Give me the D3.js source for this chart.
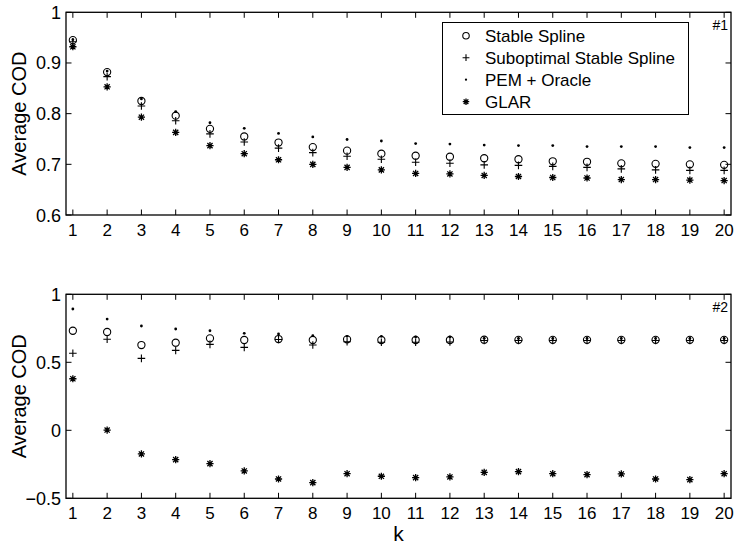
<!DOCTYPE html>
<html>
<head>
<meta charset="utf-8">
<script src="https://cdn.jsdelivr.net/npm/d3@7"></script>
<style>
  body { margin: 0; background: #fff; }
  svg { font-family: "Liberation Sans", Arial, Helvetica, sans-serif; }
</style>
</head>
<body>
<div id="chart"></div>
<script>
const kValues = [1, 2, 3, 4, 5, 6, 7, 8, 9, 10, 11, 12, 13, 14, 15, 16, 17, 18, 19, 20];

// panel #1
const stableTop = [0.945, 0.882, 0.825, 0.796, 0.770, 0.755, 0.743, 0.734, 0.727, 0.721,
  0.717, 0.715, 0.712, 0.710, 0.706, 0.705, 0.702, 0.701, 0.700, 0.699];
const suboptTop = [0.942, 0.873, 0.815, 0.786, 0.760, 0.744, 0.732, 0.723, 0.716, 0.710,
  0.704, 0.702, 0.699, 0.698, 0.696, 0.694, 0.691, 0.689, 0.688, 0.688];
const pemTop = [0.946, 0.884, 0.829, 0.804, 0.782, 0.771, 0.761, 0.754, 0.749, 0.746,
  0.741, 0.740, 0.738, 0.737, 0.737, 0.735, 0.735, 0.735, 0.733, 0.733];
const glarTop = [0.932, 0.853, 0.793, 0.763, 0.737, 0.721, 0.709, 0.700, 0.694, 0.689,
  0.682, 0.681, 0.678, 0.676, 0.674, 0.673, 0.670, 0.670, 0.669, 0.668];

// panel #2
const stableBot = [0.732, 0.723, 0.627, 0.644, 0.676, 0.664, 0.671, 0.664, 0.669, 0.664,
  0.664, 0.664, 0.666, 0.665, 0.665, 0.665, 0.665, 0.665, 0.665, 0.665];
const suboptBot = [0.566, 0.669, 0.529, 0.588, 0.632, 0.610, 0.668, 0.627, 0.651, 0.647,
  0.647, 0.649, 0.660, 0.660, 0.660, 0.660, 0.660, 0.660, 0.660, 0.660];
const pemBot = [0.892, 0.818, 0.767, 0.745, 0.732, 0.713, 0.708, 0.696, 0.691, 0.691,
  0.686, 0.686, 0.676, 0.675, 0.675, 0.675, 0.675, 0.675, 0.675, 0.675];
const glarBot = [0.379, 0.002, -0.174, -0.216, -0.245, -0.299, -0.358, -0.385, -0.319, -0.338,
  -0.348, -0.343, -0.309, -0.304, -0.319, -0.326, -0.321, -0.358, -0.363, -0.319];

const seriesNames = ['Stable Spline', 'Suboptimal Stable Spline', 'PEM + Oracle', 'GLAR'];
const topTicks = [0.6, 0.7, 0.8, 0.9, 1];
const botTicks = [-0.5, 0, 0.5, 1];

const W = 736, H = 546;
const left = 66, right = 731;

const svg = d3.select('#chart').append('svg')
  .attr('width', W)
  .attr('height', H);

const x = d3.scaleLinear().domain([0.8, 20.2]).range([left, right]);

// marker drawing
function marker(g, type, cx, cy, size) {
  const s = size || 1;
  if (type === 'circle') {
    g.append('circle').attr('cx', cx).attr('cy', cy).attr('r', 3.6 * s)
      .attr('fill', 'none').attr('stroke', '#000').attr('stroke-width', 1.1);
  } else if (type === 'plus') {
    const r = 3.8 * s;
    g.append('path')
      .attr('d', `M${cx - r},${cy}H${cx + r}M${cx},${cy - r}V${cy + r}`)
      .attr('stroke', '#000').attr('stroke-width', 1.1).attr('fill', 'none');
  } else if (type === 'dot') {
    g.append('circle').attr('cx', cx).attr('cy', cy).attr('r', 1.4 * s).attr('fill', '#000');
  } else if (type === 'star') {
    const r = 3.6 * s;
    let d = `M${cx - r},${cy}H${cx + r}M${cx},${cy - r}V${cy + r}`;
    const a = r * 0.72;
    d += `M${cx - a},${cy - a}L${cx + a},${cy + a}M${cx - a},${cy + a}L${cx + a},${cy - a}`;
    g.append('path').attr('d', d)
      .attr('stroke', '#000').attr('stroke-width', 1.3).attr('fill', 'none');
  }
}

const markerTypes = ['circle', 'plus', 'dot', 'star'];

function drawPanel(cfg) {
  const y = d3.scaleLinear().domain(cfg.domain).range([cfg.bottom, cfg.top]);
  const g = svg.append('g');

  // ticks inward on all four sides
  const tl = 5.5;
  const tickG = g.append('g').attr('stroke', '#000').attr('stroke-width', 1);
  kValues.forEach(k => {
    tickG.append('line').attr('x1', x(k)).attr('x2', x(k))
      .attr('y1', cfg.bottom).attr('y2', cfg.bottom - tl);
    tickG.append('line').attr('x1', x(k)).attr('x2', x(k))
      .attr('y1', cfg.top).attr('y2', cfg.top + tl);
  });
  cfg.ticks.forEach(t => {
    tickG.append('line').attr('x1', left).attr('x2', left + tl)
      .attr('y1', y(t)).attr('y2', y(t));
    tickG.append('line').attr('x1', right).attr('x2', right - tl)
      .attr('y1', y(t)).attr('y2', y(t));
  });

  // box
  g.append('rect')
    .attr('x', left).attr('y', cfg.top)
    .attr('width', right - left).attr('height', cfg.bottom - cfg.top)
    .attr('fill', 'none').attr('stroke', '#000').attr('stroke-width', 1.3);

  // tick labels
  g.selectAll('.xl').data(kValues).enter().append('text')
    .attr('x', d => x(d)).attr('y', cfg.bottom + 21)
    .attr('text-anchor', 'middle').attr('font-size', 17)
    .text(d => d);
  g.selectAll('.yl').data(cfg.ticks).enter().append('text')
    .attr('x', left - 5).attr('y', d => y(d) + 6.5)
    .attr('text-anchor', 'end').attr('font-size', 18)
    .text(d => d3.format('')(d).replace('-', '\u2212'));

  // y label
  g.append('text')
    .attr('transform', `translate(26,${(cfg.top + cfg.bottom) / 2}) rotate(-90)`)
    .attr('text-anchor', 'middle').attr('font-size', 20)
    .text('Average COD');

  // data markers
  const mg = g.append('g');
  cfg.series.forEach((vals, i) => {
    vals.forEach((v, j) => marker(mg, markerTypes[i], x(kValues[j]), y(v)));
  });

  // panel tag
  g.append('text')
    .attr('x', right - 3).attr('y', cfg.top + 18)
    .attr('text-anchor', 'end').attr('font-size', 14)
    .text(cfg.tag);
}

drawPanel({
  top: 12.3, bottom: 215, domain: [0.6, 1], ticks: topTicks, tag: '#1',
  series: [stableTop, suboptTop, pemTop, glarTop]
});
drawPanel({
  top: 294.3, bottom: 498.3, domain: [-0.5, 1], ticks: botTicks, tag: '#2',
  series: [stableBot, suboptBot, pemBot, glarBot]
});

// legend
const lg = svg.append('g');
lg.append('rect')
  .attr('x', 442.5).attr('y', 22.5).attr('width', 246).attr('height', 92)
  .attr('fill', '#fff').attr('stroke', '#000').attr('stroke-width', 1);
seriesNames.forEach((name, i) => {
  const ly = 35.7 + i * 22;
  marker(lg, markerTypes[i], 466, ly, i === 2 ? 0.8 : 0.9);
  lg.append('text')
    .attr('x', 485).attr('y', ly + 6)
    .attr('font-size', 17)
    .text(name);
});

// x label
svg.append('text')
  .attr('x', x(10.5)).attr('y', 541)
  .attr('text-anchor', 'middle').attr('font-size', 21)
  .text('k');
</script>
</body>
</html>
